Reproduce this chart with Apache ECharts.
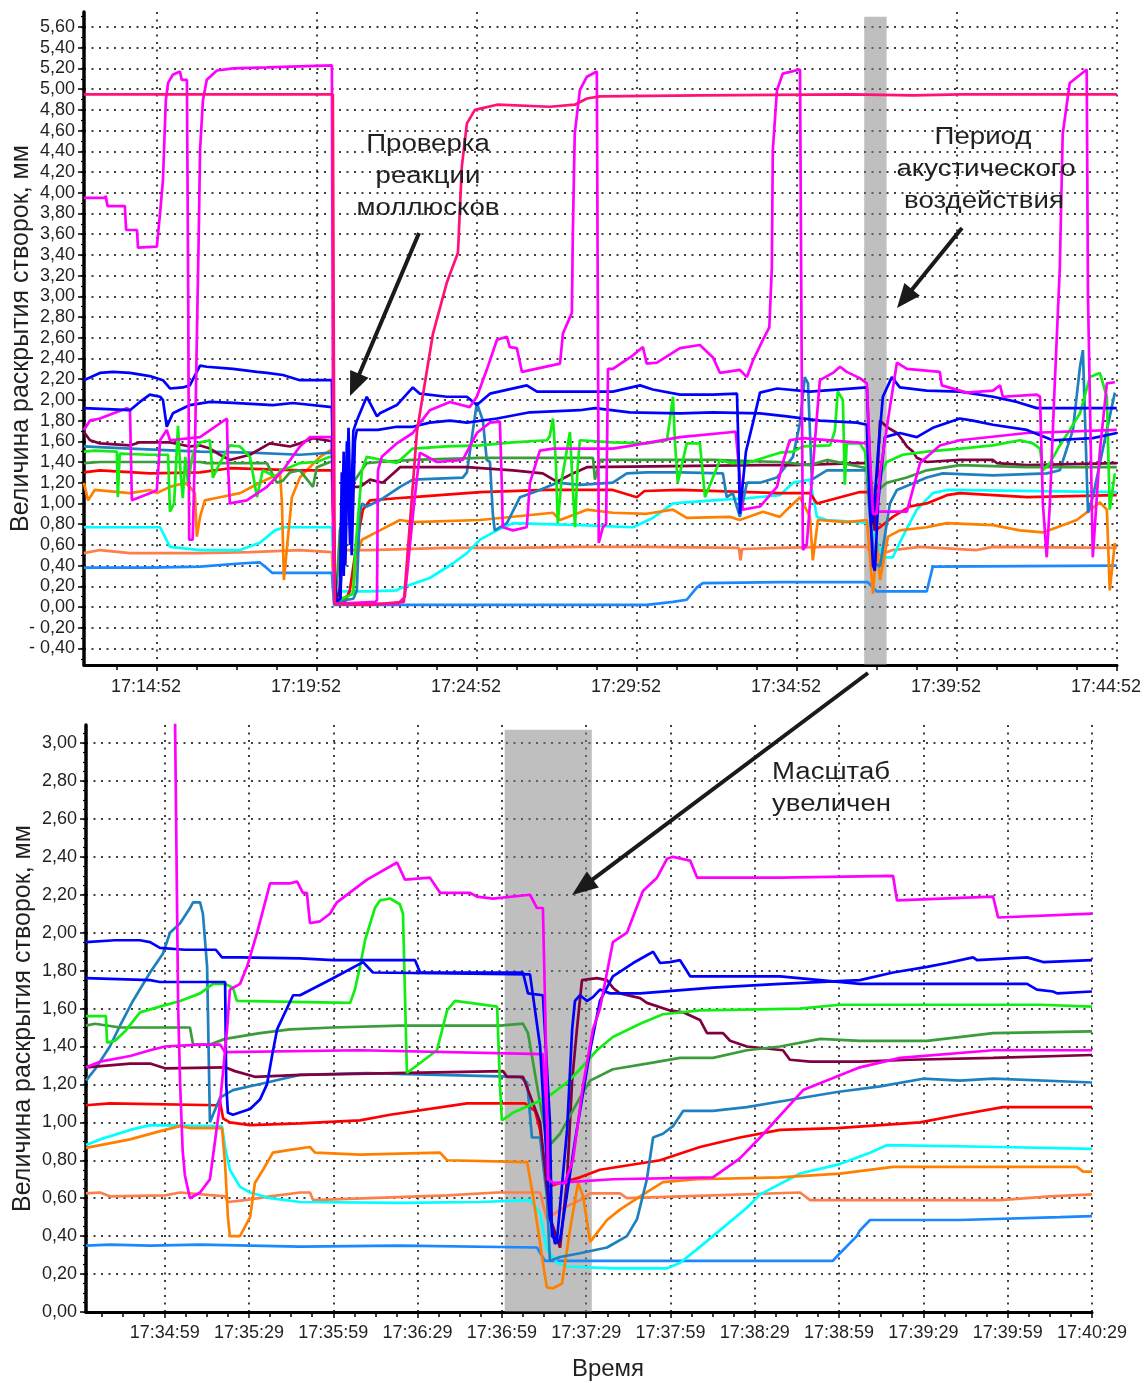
<!DOCTYPE html>
<html>
<head>
<meta charset="utf-8">
<script src="https://cdn.jsdelivr.net/npm/echarts@6.0.0/dist/echarts.min.js"></script>
<style>html,body{margin:0;padding:0;background:#fff}#c{width:1146px;height:1383px}</style>
</head>
<body>
<div id="c"></div>
<script>
// ---------- tick labels ----------
const topXLabels = ['17:14:52','17:19:52','17:24:52','17:29:52','17:34:52','17:39:52','17:44:52'];
const topXStart = '17:12:35';
const topYTicks = [-0.4,-0.2,0,0.2,0.4,0.6,0.8,1.0,1.2,1.4,1.6,1.8,2.0,2.2,2.4,2.6,2.8,3.0,3.2,3.4,3.6,3.8,4.0,4.2,4.4,4.6,4.8,5.0,5.2,5.4,5.6];
const botXLabels = ['17:34:59','17:35:29','17:35:59','17:36:29','17:36:59','17:37:29','17:37:59','17:38:29','17:38:59','17:39:29','17:39:59','17:40:29'];
const botXStart = '17:34:31';
const botYTicks = [0,0.2,0.4,0.6,0.8,1.0,1.2,1.4,1.6,1.8,2.0,2.2,2.4,2.6,2.8,3.0];
const topBand = ['17:36:58','17:37:40'];
const botBand = ['17:37:00','17:37:31'];

// ---------- top chart series: [minutes after 17:00, mm] ----------
const topCrimson = [[12.58,4.95],[20.36,4.95],[20.42,0.03],[21.5,0.02],[22.58,0.05],[22.99,1.7],[23.49,2.64],[23.92,3.13],[24.27,3.42],[24.39,4.25],[24.55,4.67],[24.8,4.8],[25.49,4.85],[27.14,4.83],[27.92,4.85],[28.3,4.91],[28.71,4.93],[31.83,4.94],[36.52,4.95],[38.5,4.94],[40,4.95],[44.86,4.95]];
const topMagentaA = [[12.58,3.95],[13.24,3.95],[13.26,3.97],[13.3,3.97],[13.32,3.87],[13.86,3.87],[13.9,3.64],[14.24,3.64],[14.27,3.47],[14.86,3.48],[14.96,3.8],[15.05,4.12],[15.14,4.89],[15.21,5.06],[15.36,5.14],[15.58,5.17],[15.64,5.09],[15.8,5.09],[15.84,3.0],[15.87,0.65],[15.98,0.65],[16.05,1.5],[16.11,2.6],[16.17,3.61],[16.21,4.41],[16.3,4.89],[16.42,5.09],[16.74,5.18],[17.24,5.2],[18.3,5.21],[20.33,5.23],[20.38,0.5],[20.42,0.03],[21.7,0.05],[21.74,0.07],[21.77,1.32],[21.89,1.45],[22.36,1.58],[22.86,1.68],[23.14,1.8],[23.39,1.9],[24.02,1.98],[24.64,1.93],[24.86,2.03],[25.17,2.29],[25.49,2.58],[25.8,2.61],[25.89,2.51],[26.11,2.5],[26.27,2.27],[27.46,2.35],[27.55,2.64],[27.83,2.84],[27.86,3.6],[27.92,4.57],[28.08,4.99],[28.3,5.12],[28.61,5.17],[28.64,3.0],[28.67,0.62],[28.8,0.77],[28.9,0.8],[28.96,2.3],[29.11,2.3],[29.74,2.43],[30.05,2.51],[30.17,2.35],[30.49,2.36],[31.21,2.5],[31.83,2.53],[32.24,2.41],[32.46,2.26],[33.08,2.29],[33.3,2.22],[33.49,2.38],[33.8,2.58],[34.0,2.7],[34.08,3.28],[34.11,4.41],[34.24,4.99],[34.42,5.15],[34.96,5.19],[35.0,3.0],[35.05,0.55],[35.17,0.6],[35.4,1.5],[35.58,2.19],[35.99,2.26],[36.21,2.32],[36.42,2.27],[36.83,2.21],[37.05,2.16],[37.14,1.5],[37.24,0.9],[37.36,0.9],[37.46,1.29],[37.77,1.93],[37.99,2.36],[38.3,2.3],[39.33,2.27],[39.39,2.14],[40.17,2.07],[40.99,2.09],[41.21,2.14],[41.3,2.03],[42.36,2.05],[42.46,2.03],[42.55,1.0],[42.67,0.48],[42.77,1.0],[42.9,2.0],[43.08,3.28],[43.17,4.57],[43.39,5.06],[43.92,5.19],[43.96,3.0],[44.11,0.48],[44.33,1.5],[44.55,2.16],[44.8,2.17]];
const topMagentaB = [[12.58,1.71],[12.77,1.8],[13.08,1.82],[13.92,1.92],[14.02,1.9],[14.08,1.03],[14.74,1.11],[14.86,1.13],[14.92,1.4],[14.96,1.61],[15.17,1.71],[15.27,1.61],[16.21,1.64],[17.05,1.82],[17.08,1.4],[17.14,1.0],[17.67,1.03],[18.3,1.16],[18.8,1.32],[19.33,1.55],[19.64,1.64],[20.33,1.64],[20.38,0.5],[20.42,0.03],[22.4,0.03],[22.61,0.1],[22.9,1.0],[23.08,1.49],[23.61,1.4],[24.42,1.42],[24.86,1.68],[25.27,1.78],[25.58,1.79],[25.64,1.2],[25.67,0.77],[25.99,0.74],[26.42,0.77],[26.52,1.2],[26.83,1.51],[27.24,1.53],[29.11,1.53],[29.74,1.56],[31.21,1.64],[32.86,1.69],[32.95,1.69],[33.17,0.94],[33.71,0.97],[34.24,1.16],[34.42,1.39],[34.64,1.61],[35.05,1.63],[37.05,1.58],[37.14,1.2],[37.21,0.92],[38.3,0.92],[38.71,1.39],[39.33,1.56],[39.96,1.61],[42.05,1.68],[44.86,1.71]];
const topBlue1 = [[12.58,2.19],[13.08,2.26],[13.49,2.27],[14.02,2.26],[14.64,2.23],[15.05,2.19],[15.27,2.11],[15.67,2.12],[15.89,2.14],[16.21,2.33],[16.42,2.32],[17.24,2.3],[17.99,2.27],[18.3,2.26],[18.8,2.24],[19.33,2.19],[20.33,2.19],[20.4,0.5],[20.45,0.05],[20.58,0.08],[20.64,1.3],[20.7,0.3],[20.8,1.6],[20.9,0.6],[21.0,1.7],[21.11,1.8],[21.42,2.03],[21.74,1.84],[21.83,1.87],[22.36,1.95],[22.86,2.12],[23.08,2.06],[23.92,2.03],[24.55,2.03],[24.86,1.95],[25.27,2.06],[26.42,2.14],[26.74,2.08],[28.08,2.08],[29.11,2.08],[29.96,2.14],[30.36,2.1],[31.21,2.05],[32.24,2.05],[32.99,2.06],[33.04,1.5],[33.08,0.9],[33.27,1.5],[33.49,1.78],[33.71,2.07],[34.24,2.11],[35.27,2.08],[37.05,2.12],[37.14,1.4],[37.24,0.81],[37.3,0.81],[37.4,1.5],[37.55,2.03],[37.83,2.22],[38.08,2.12],[38.92,2.09],[39.96,2.08],[40.99,2.03],[41.74,1.98],[42.36,1.92],[44.86,1.92]];
const topBlue2 = [[12.58,1.92],[14.02,1.9],[14.33,1.98],[14.64,2.05],[14.96,2.03],[15.05,2.0],[15.17,1.74],[15.36,1.87],[15.89,1.95],[16.52,1.98],[17.24,1.97],[18.49,1.95],[19.11,1.97],[20.33,1.93],[20.4,0.5],[20.45,0.05],[20.6,0.08],[20.7,1.5],[20.75,0.4],[20.85,1.73],[20.95,0.5],[21.05,1.6],[21.11,1.71],[21.77,1.71],[22.36,1.74],[22.86,1.74],[23.39,1.78],[24.02,1.8],[24.55,1.78],[25.49,1.82],[26.52,1.88],[28.08,1.9],[28.55,1.92],[29.64,1.88],[31.21,1.87],[32.24,1.88],[33.71,1.87],[34.55,1.84],[35.58,1.8],[36.74,1.78],[37.05,1.76],[37.14,1.0],[37.24,0.4],[37.3,0.35],[37.4,1.0],[37.61,1.64],[38.08,1.68],[38.61,1.64],[39.11,1.73],[39.96,1.82],[40.36,1.8],[40.99,1.76],[42.05,1.71],[42.86,1.61],[44.11,1.63],[44.86,1.68]];
const topGreen = [[12.58,1.5],[12.92,1.51],[13.61,1.5],[13.64,1.06],[13.7,1.48],[14.64,1.47],[15.21,1.47],[15.27,0.92],[15.4,1.0],[15.52,1.75],[15.6,1.3],[15.67,1.05],[15.75,1.45],[15.83,1.2],[16.0,1.5],[16.21,1.59],[16.52,1.61],[16.61,1.25],[16.83,1.39],[17.14,1.56],[17.46,1.55],[17.77,1.45],[17.99,1.06],[18.17,1.32],[18.61,1.25],[18.71,1.32],[19.02,1.35],[19.33,1.39],[19.86,1.4],[20.27,1.45],[20.36,1.45],[20.42,0.05],[20.8,0.1],[21.0,0.13],[21.05,0.5],[21.27,1.32],[21.42,1.45],[22.36,1.39],[22.86,1.53],[23.92,1.55],[24.96,1.56],[25.99,1.59],[27.05,1.61],[27.14,1.65],[27.24,1.82],[27.33,1.4],[27.39,0.81],[27.5,1.2],[27.77,1.69],[27.85,1.2],[27.93,0.77],[28.0,1.3],[28.08,1.61],[29.11,1.59],[30.17,1.58],[30.8,1.61],[30.89,1.8],[30.99,2.03],[31.05,1.6],[31.14,1.2],[31.42,1.58],[31.83,1.58],[31.92,1.3],[31.99,1.06],[32.24,1.25],[32.46,1.42],[32.77,1.39],[33.3,1.39],[34.33,1.49],[34.74,1.5],[35.05,1.55],[35.9,1.56],[36.05,1.7],[36.14,2.08],[36.3,2.0],[36.36,1.18],[36.42,1.58],[36.83,1.58],[36.99,1.5],[37.14,1.06],[37.3,1.16],[37.67,1.4],[38.17,1.47],[38.92,1.5],[39.96,1.53],[40.99,1.56],[41.83,1.61],[42.24,1.58],[42.46,1.53],[42.55,1.32],[42.77,1.39],[43.08,1.56],[43.39,1.71],[43.71,1.87],[44.02,2.22],[44.33,2.26],[44.55,2.03],[44.64,0.94],[44.8,1.29]];
const topDarkGreen = [[12.58,1.39],[13.08,1.4],[14.64,1.4],[16.21,1.4],[16.42,1.39],[18.3,1.39],[18.61,1.2],[18.8,1.22],[19.02,1.3],[19.33,1.32],[19.74,1.16],[19.86,1.35],[20.27,1.4],[20.36,1.4],[20.42,0.05],[20.5,0.3],[20.58,0.74],[20.99,1.2],[21.42,1.39],[21.83,1.4],[22.86,1.42],[24.96,1.44],[28.49,1.44],[28.55,1.23],[28.71,1.42],[32.24,1.42],[34.33,1.4],[35.27,1.37],[35.8,1.42],[37.05,1.34],[37.14,1.1],[37.21,0.94],[37.3,1.1],[37.67,1.2],[38.3,1.25],[38.92,1.32],[39.96,1.37],[42.05,1.35],[44.86,1.35]];
const topMaroon = [[12.58,1.69],[12.77,1.61],[13.08,1.58],[14.02,1.56],[14.33,1.59],[15.27,1.59],[15.89,1.55],[16.21,1.56],[16.52,1.53],[16.83,1.47],[17.14,1.42],[17.77,1.47],[18.39,1.58],[19.02,1.55],[19.33,1.58],[19.74,1.63],[20.33,1.6],[20.4,0.5],[20.45,0.05],[20.6,0.2],[20.8,1.16],[21.21,1.16],[21.52,1.23],[21.92,1.2],[22.36,1.32],[22.46,1.35],[24.55,1.35],[25.99,1.32],[26.92,1.29],[27.36,1.21],[27.86,1.29],[28.3,1.35],[33.71,1.37],[34.74,1.37],[36.83,1.39],[37.05,1.39],[37.14,1.0],[37.3,0.74],[37.46,1.8],[37.67,1.74],[37.99,1.68],[38.17,1.61],[38.3,1.55],[38.49,1.5],[38.61,1.44],[38.92,1.4],[39.96,1.42],[40.99,1.42],[41.11,1.39],[42.05,1.37],[44.86,1.39]];
const topSteel = [[12.58,1.55],[14.02,1.53],[16.21,1.5],[17.77,1.49],[19.33,1.47],[20.36,1.49],[20.42,0.05],[21.0,0.08],[21.11,0.16],[21.2,0.9],[21.27,1.0],[21.42,0.97],[21.83,1.03],[22.46,1.16],[22.86,1.23],[24.42,1.25],[24.55,1.3],[24.86,1.97],[25.05,1.8],[25.17,1.42],[25.27,1.4],[25.36,0.9],[25.42,0.74],[25.8,0.81],[26.21,1.06],[26.83,1.13],[27.36,1.2],[28.08,1.18],[29.11,1.2],[29.55,1.29],[30.17,1.3],[31.21,1.3],[32.55,1.29],[32.67,1.06],[32.86,1.1],[33.08,0.87],[33.3,1.2],[33.71,1.2],[34.24,1.25],[34.74,1.45],[34.96,1.78],[35.11,2.22],[35.21,2.16],[35.33,1.23],[35.8,1.32],[37.05,1.32],[37.14,0.9],[37.3,0.42],[37.46,0.39],[37.77,1.0],[37.99,1.13],[38.39,1.18],[38.92,1.25],[39.42,1.29],[40.99,1.27],[42.67,1.29],[43.08,1.32],[43.49,1.71],[43.71,2.32],[43.8,2.48],[43.96,0.91],[44.11,1.06],[44.55,1.71],[44.8,2.07]];
const topRed = [[12.58,1.3],[13.08,1.32],[14.64,1.29],[16.21,1.3],[17.14,1.34],[19.33,1.32],[20.33,1.32],[20.4,0.5],[20.45,0.05],[20.74,0.05],[20.89,0.16],[21.11,0.62],[21.3,0.94],[21.52,1.03],[22.36,1.05],[22.86,1.06],[24.96,1.11],[27.05,1.13],[29.11,1.13],[29.86,1.06],[30.1,1.12],[31.21,1.13],[34.33,1.1],[35.27,1.1],[35.49,1.0],[36.83,1.11],[37.14,1.11],[37.3,0.74],[37.46,0.77],[37.86,0.87],[38.39,0.97],[38.92,1.0],[39.55,1.08],[39.96,1.1],[42.05,1.06],[44.86,1.08]];
const topCyan = [[12.58,0.77],[14.96,0.77],[15.11,0.68],[15.27,0.58],[16.21,0.55],[17.46,0.55],[18.08,0.62],[18.55,0.74],[18.86,0.77],[20.33,0.77],[20.42,0.15],[21.5,0.15],[22.36,0.16],[22.46,0.18],[23.39,0.28],[24.11,0.42],[24.55,0.52],[24.96,0.65],[25.49,0.74],[25.99,0.81],[28.08,0.79],[29.74,0.77],[30.36,0.86],[30.99,1.0],[32.24,1.03],[33.3,1.05],[34.33,1.08],[34.74,1.2],[35.27,1.23],[35.49,0.87],[35.8,0.84],[36.83,0.82],[37.14,0.81],[37.55,0.48],[37.86,0.48],[38.17,0.68],[38.61,0.94],[39.11,1.1],[39.55,1.13],[44.86,1.11]];
const topOrange = [[12.58,1.2],[12.71,1.03],[12.92,1.13],[14.02,1.1],[14.64,1.13],[14.86,1.1],[15.27,1.16],[15.74,1.2],[15.89,1.16],[16.05,1.1],[16.11,0.68],[16.21,0.87],[16.36,1.03],[16.83,1.06],[17.46,1.1],[18.08,1.2],[18.71,1.29],[18.77,1.0],[18.83,0.26],[18.96,0.68],[19.08,1.06],[19.33,1.25],[19.64,1.35],[19.96,1.45],[20.36,1.53],[20.42,0.05],[20.99,0.13],[21.1,0.5],[21.27,0.65],[21.83,0.74],[22.46,0.84],[22.86,0.82],[24.96,0.84],[27.24,0.91],[27.46,0.84],[28.3,0.94],[29.11,0.91],[30.17,0.9],[30.99,0.94],[31.42,0.86],[32.77,0.87],[33.08,0.84],[33.8,0.92],[34.33,0.87],[34.55,0.94],[34.96,1.06],[35.27,0.87],[35.36,0.45],[35.52,0.84],[36.42,0.82],[37.05,0.84],[37.24,0.13],[37.36,0.62],[37.46,0.26],[37.71,0.68],[38.08,0.74],[38.92,0.77],[39.55,0.81],[40.99,0.79],[41.83,0.74],[42.55,0.72],[43.61,0.84],[44.33,1.01],[44.55,0.94],[44.64,0.16],[44.8,0.62]];
const topCoral = [[12.58,0.52],[13.08,0.55],[14.02,0.52],[16.21,0.52],[17.77,0.53],[19.33,0.55],[20.33,0.53],[20.4,0.05],[20.5,0.1],[20.74,0.55],[21.5,0.55],[23.92,0.57],[25.99,0.57],[28.08,0.58],[30.17,0.58],[33.05,0.57],[33.1,0.45],[33.15,0.56],[34.33,0.57],[35.8,0.58],[37.05,0.58],[37.24,0.48],[37.86,0.55],[38.71,0.58],[40.49,0.55],[40.99,0.58],[44.86,0.57]];
const topAzure = [[12.58,0.38],[14.64,0.38],[16.21,0.39],[17.46,0.42],[18.08,0.43],[18.24,0.39],[18.46,0.33],[20.33,0.33],[20.4,0.02],[22.46,0.02],[27.05,0.02],[30.17,0.02],[30.99,0.05],[31.42,0.07],[31.74,0.19],[31.92,0.23],[34.33,0.24],[37.08,0.24],[37.36,0.15],[38.92,0.15],[39.11,0.39],[44.86,0.40]];

// ---------- bottom chart series: [seconds after 17:34:00, mm] ----------
const botMagentaA = [[31,5.19],[61.5,5.15],[62.7,3.1],[63.8,1.6],[64.5,1.2],[65.4,0.85],[66.2,0.72],[68,0.6],[71.6,0.63],[75.1,0.7],[78.7,1.1],[81.2,1.49],[82.2,1.70],[85.8,1.73],[88.3,1.82],[91.9,2.0],[96.5,2.26],[103.6,2.26],[106.1,2.27],[108.2,2.21],[109.6,2.21],[110.7,2.05],[114.3,2.06],[117.8,2.1],[120.3,2.16],[131,2.28],[141.7,2.37],[144.5,2.28],[153.4,2.29],[157,2.21],[167.7,2.21],[170.1,2.19],[175.8,2.18],[189,2.2],[191.5,2.13],[193.6,2.13],[194.7,1.4],[195.4,0.7],[197.2,0.68],[201.4,0.68],[204.3,0.8],[207.9,1.2],[211.4,1.49],[213.9,1.6],[218.5,1.95],[223.5,2.0],[229.2,2.22],[234.2,2.29],[237.8,2.39],[239.9,2.4],[246,2.38],[248.5,2.29],[278,2.29],[318.2,2.3],[319.6,2.17],[353.8,2.19],[355.6,2.08],[389,2.1]];
const botMagentaB = [[31,1.29],[36,1.32],[46.7,1.35],[53.8,1.38],[59.1,1.40],[71.6,1.41],[78.7,1.41],[80.5,1.37],[128.5,1.38],[193.6,1.36],[196.1,0.7],[197.2,0.68],[218.5,0.70],[254.1,0.71],[263.7,0.81],[270.9,0.92],[286.2,1.17],[306.4,1.29],[320.7,1.34],[353.8,1.38],[389,1.38]];
const botBlue1 = [[31,1.95],[41.3,1.96],[50.2,1.96],[53.8,1.95],[57.3,1.92],[66.2,1.91],[77.2,1.91],[79.4,1.87],[85.8,1.87],[107.2,1.865],[118.9,1.855],[148.1,1.855],[149.9,1.79],[186.5,1.79],[188.3,1.68],[193.6,1.67],[196.1,1.0],[196.8,0.4],[198.6,0.38],[202.2,0.96],[204,1.49],[205,1.64],[206.8,1.67],[209.3,1.64],[211.4,1.66],[213.9,1.70],[217.5,1.68],[228.2,1.68],[254.1,1.71],[278,1.73],[306.4,1.75],[318.2,1.79],[330.3,1.82],[337.4,1.84],[346.7,1.87],[348.1,1.855],[365.9,1.87],[371.6,1.845],[389,1.855]];
const botBlue2 = [[31,1.76],[53.8,1.75],[57.3,1.74],[80.5,1.74],[80.9,1.2],[81.5,1.05],[83.3,1.04],[89.4,1.07],[92.9,1.12],[95.4,1.2],[97.2,1.35],[99,1.49],[104.7,1.67],[107.2,1.67],[118.9,1.76],[129.6,1.845],[133.1,1.79],[189,1.78],[192.6,1.4],[196.1,0.5],[197.9,0.36],[199.7,0.38],[205,0.9],[210.4,1.38],[213.9,1.64],[218.5,1.77],[225.7,1.84],[231.7,1.89],[232.8,1.90],[235.3,1.84],[238.8,1.845],[242.4,1.855],[246,1.77],[278,1.77],[306.4,1.73],[365.9,1.73],[369.4,1.70],[375.1,1.69],[376.6,1.68],[389,1.69]];
const botGreen = [[31,1.56],[38.1,1.56],[38.5,1.42],[41.3,1.43],[44.9,1.48],[50.2,1.58],[57.3,1.61],[64.5,1.64],[71.6,1.68],[76.2,1.73],[80.5,1.73],[83.3,1.71],[84.7,1.64],[125,1.63],[126.7,1.70],[128.5,1.82],[130.3,1.96],[133.8,2.13],[135.6,2.17],[139.2,2.18],[142.7,2.15],[143.8,2.1],[145.2,1.26],[155.9,1.38],[159.5,1.59],[162.3,1.64],[167.7,1.63],[177.3,1.61],[178.3,1.2],[179,1.01],[182.9,1.05],[189,1.09],[195,1.13],[202.2,1.21],[206.8,1.28],[212.8,1.38],[218.5,1.45],[228.2,1.52],[236.3,1.57],[249.5,1.59],[285.1,1.60],[299.3,1.62],[370.5,1.62],[389,1.61]];
const botDarkGreen = [[31,1.51],[34.2,1.52],[43.1,1.50],[68,1.50],[69.1,1.41],[75.1,1.41],[80.5,1.44],[92.9,1.47],[103.6,1.49],[118.9,1.50],[142.7,1.51],[178.3,1.51],[186.5,1.52],[188.3,1.47],[192.6,1.1],[195.4,0.87],[199.7,0.94],[206.8,1.13],[210.4,1.22],[218.5,1.28],[230.6,1.31],[242.4,1.34],[254.1,1.34],[266.2,1.38],[278,1.40],[292.3,1.44],[306.4,1.43],[330.3,1.43],[353.8,1.47],[389,1.48]];
const botMaroon = [[31,1.29],[46.7,1.31],[53.8,1.31],[59.1,1.285],[80.5,1.29],[84,1.27],[91.1,1.24],[107.2,1.25],[179.4,1.27],[180.8,1.24],[186.5,1.24],[192.6,1.0],[196.1,0.5],[199.7,0.34],[202.2,0.7],[204,1.22],[205.7,1.49],[207.5,1.75],[212.8,1.76],[216.4,1.75],[218.5,1.71],[221,1.68],[228.2,1.655],[230.6,1.63],[238.8,1.59],[243.5,1.58],[249.5,1.54],[252,1.47],[257.7,1.47],[260.2,1.43],[266.2,1.40],[279,1.38],[281.5,1.33],[288.7,1.32],[306.4,1.32],[324.2,1.33],[353.8,1.34],[389,1.355]];
const botSteel = [[31,1.22],[34.2,1.28],[39.5,1.40],[43.1,1.51],[47.7,1.64],[53.8,1.79],[58.4,1.89],[60.9,2.0],[64.5,2.05],[68,2.13],[69.1,2.16],[71.6,2.16],[72.6,2.1],[74.1,1.82],[75.1,1.0],[78.7,1.13],[83.3,1.17],[89.4,1.19],[95.4,1.21],[101.1,1.23],[107.2,1.25],[131,1.26],[185.4,1.24],[188,1.21],[189.7,0.92],[192.6,0.92],[195,0.61],[196.1,0.27],[199.7,0.29],[206.8,0.31],[216.4,0.34],[223.5,0.40],[227.1,0.49],[230.6,0.70],[232.8,0.92],[236.3,0.94],[239.9,0.98],[243.5,1.06],[254.1,1.06],[266.2,1.08],[278,1.11],[298.3,1.16],[313.6,1.19],[328.9,1.23],[342,1.22],[353.8,1.23],[389,1.21]];
const botRed = [[31,1.09],[39.5,1.10],[78,1.09],[78.7,1.11],[79.8,1.02],[82.2,1.0],[89.4,0.985],[107.2,0.995],[128.5,1.01],[139.2,1.04],[166.6,1.10],[187.2,1.10],[190.8,1.06],[192.6,0.96],[194.3,0.75],[195.4,0.66],[199.7,0.68],[206.8,0.71],[213.9,0.75],[224.6,0.775],[235.3,0.80],[249.5,0.87],[263.7,0.92],[278,0.96],[298.3,0.97],[327.8,1.0],[342,1.04],[357.3,1.08],[389,1.08]];
const botCyan = [[31,0.88],[36,0.91],[46.7,0.96],[53.8,0.985],[79.4,0.98],[80.5,0.87],[82.2,0.75],[85.8,0.66],[89.4,0.63],[96.5,0.60],[107.2,0.58],[142.7,0.575],[171.2,0.58],[189,0.59],[192.6,0.52],[195,0.33],[198.6,0.26],[202.2,0.24],[218.5,0.23],[237.8,0.23],[242.4,0.26],[248.4,0.33],[254.1,0.40],[266.2,0.55],[270.9,0.62],[285.1,0.73],[299.3,0.78],[310,0.84],[316.1,0.88],[356.3,0.87],[389,0.86]];
const botOrange = [[31,0.865],[46.7,0.91],[59.1,0.96],[64.5,0.98],[68,0.97],[79.4,0.97],[80.5,0.78],[81.5,0.5],[82.2,0.40],[85.8,0.40],[89.4,0.50],[91.1,0.68],[94,0.75],[97.5,0.84],[103.6,0.855],[110.7,0.87],[112.5,0.84],[128.5,0.83],[157,0.84],[159.5,0.80],[188,0.79],[190.1,0.61],[193.6,0.26],[195,0.13],[197.2,0.125],[200.4,0.15],[203.2,0.43],[206.1,0.68],[207.9,0.61],[210.4,0.37],[216.4,0.485],[221,0.54],[228.2,0.61],[236.3,0.685],[248.4,0.70],[278,0.71],[299.3,0.73],[318.2,0.765],[383.7,0.765],[385.8,0.74],[389,0.74]];
const botCoral = [[31,0.625],[36,0.63],[39.5,0.61],[59.1,0.615],[64.5,0.63],[80.5,0.61],[81.5,0.58],[87.6,0.59],[96.5,0.61],[107.2,0.63],[110.7,0.63],[111.8,0.59],[159.5,0.615],[177.3,0.63],[192.6,0.63],[195,0.49],[199.7,0.54],[206.8,0.59],[210.4,0.625],[221,0.625],[223.5,0.60],[254.1,0.615],[285.1,0.63],[288.7,0.59],[356.3,0.59],[374.1,0.61],[389,0.62]];
const botAzure = [[31,0.35],[39.5,0.355],[53.8,0.35],[71.6,0.355],[107.2,0.345],[142.7,0.35],[191.5,0.34],[194.3,0.27],[199.7,0.27],[296.8,0.27],[299.3,0.31],[305.3,0.40],[306.4,0.43],[310,0.485],[342,0.485],[377.6,0.50],[389,0.505]];

// ---------- helpers ----------
const FONT = '"Liberation Sans", Arial, sans-serif';
const TXT = '#231f20';
const pad = n => String(n).padStart(2, '0');
function tMin(s){ const p = s.split(':').map(Number); return (p[0]-17)*60 + p[1] + p[2]/60; }
function tSec(s){ const p = s.split(':').map(Number); return (p[0]-17)*3600 + (p[1]-34)*60 + p[2]; }
function fmtTop(v){ const t = Math.round(v*60); return '17:' + pad(Math.floor(t/60)) + ':' + pad(t%60); }
function fmtBot(v){ const t = Math.round(v) + 34*60; return '17:' + pad(Math.floor(t/60)) + ':' + pad(t%60); }
function fmtY(v){ const s = Math.abs(v).toFixed(2).replace('.', ','); return v < -1e-9 ? '- ' + s : s; }

const topXMin = tMin(topXStart), topXMax = tMin(topXLabels[topXLabels.length-1]);
const botXMin = tSec(botXStart), botXMax = tSec(botXLabels[botXLabels.length-1]);
const topYMin = -0.56, topYMax = 5.745;
const botYMin = 0, botYMax = 3.095;

const topMajor = topXLabels.map(tMin);
const botMajor = botXLabels.map(tSec);
function minors(first, step, lo, hi){ let s = first; while (s - step >= lo - 1e-6) s -= step; const out = []; for (let v = s; v <= hi + 1e-6; v += step) out.push(+v.toFixed(5)); return out; }
const topMinor = minors(topMajor[0], 1.25, topXMin, topXMax);
const botMinor = minors(botMajor[0], 7.5, botXMin, botXMax);
const topYMinor = minors(0, 0.1, -0.5, 5.7);
const botYMinor = minors(0, 0.05, 0, 3.05);

const dotted = { color: '#000', type: [2, 5.5], width: 1.5 };

function mainX(gi, min, max, major, fmt, labelPad, margin){
  return { gridIndex: gi, type: 'value', min, max, position: 'bottom',
    axisLine: { show: true, onZero: false, lineStyle: { color: '#000', width: 3 } },
    axisTick: { show: true, customValues: major, length: 6, lineStyle: { color: '#000', width: 1.5 } },
    axisLabel: { show: true, customValues: major, formatter: fmt, color: TXT, fontSize: 18, fontFamily: FONT, margin, padding: labelPad },
    splitLine: { show: true, lineStyle: dotted } };
}
function minorX(gi, min, max, ticks){
  return { gridIndex: gi, type: 'value', min, max, position: 'bottom',
    axisLine: { show: false, onZero: false }, axisLabel: { show: false },
    axisTick: { show: true, customValues: ticks, length: 5, lineStyle: { color: '#000', width: 1.5 } },
    splitLine: { show: false } };
}
function mainY(gi, min, max, ticks){
  return { gridIndex: gi, type: 'value', min, max, position: 'left',
    name: 'Величина раскрытия створок, мм', nameLocation: 'middle', nameGap: 50, nameMoveOverlap: false,
    nameTextStyle: { color: TXT, fontSize: 25, fontFamily: FONT },
    axisLine: { show: true, onZero: false, lineStyle: { color: '#000', width: 3.5 } },
    axisTick: { show: true, customValues: ticks, length: 6, lineStyle: { color: '#000', width: 1.5 } },
    axisLabel: { show: true, customValues: ticks, formatter: fmtY, color: TXT, fontSize: 18, fontFamily: FONT, margin: 9 },
    splitLine: { show: true, lineStyle: dotted } };
}
function minorY(gi, min, max, ticks){
  return { gridIndex: gi, type: 'value', min, max, position: 'left',
    axisLine: { show: false, onZero: false }, axisLabel: { show: false },
    axisTick: { show: true, customValues: ticks, length: 3, lineStyle: { color: '#000', width: 1.2 } },
    splitLine: { show: false } };
}

function line(data, color, xi, yi){
  return { type: 'line', data, xAxisIndex: xi, yAxisIndex: yi, showSymbol: false, symbol: 'none',
    lineStyle: { color, width: 2.7 }, itemStyle: { color }, animation: false, z: 3, clip: true, silent: true };
}

const C = { crimson: '#ff1177', magenta: '#ff00ff', blue: '#0000ff', green: '#11ee11', dgreen: '#3a9c3a',
  maroon: '#800040', steel: '#1f80c0', red: '#ff0000', cyan: '#00ffff', orange: '#ff8000', coral: '#ff7f4a', azure: '#1a88ff' };

function band(xi, yi, x0, x1, y0, y1){
  return { type: 'line', data: [[x0, y0]], xAxisIndex: xi, yAxisIndex: yi, symbol: 'none', showSymbol: false,
    lineStyle: { width: 0, opacity: 0 }, z: 1, silent: true, animation: false,
    markArea: { silent: true, itemStyle: { color: 'rgba(128,128,128,0.5)' },
      data: [[{ xAxis: x0, yAxis: y0 }, { xAxis: x1, yAxis: y1 }]] } };
}

function arrow(x1, y1, x2, y2, hl, hw){
  const dx = x2 - x1, dy = y2 - y1, L = Math.hypot(dx, dy), ux = dx / L, uy = dy / L;
  const bx = x2 - ux * hl, by = y2 - uy * hl, px = -uy, py = ux;
  return [
    { type: 'line', shape: { x1, y1, x2: bx + ux * 3, y2: by + uy * 3 }, style: { stroke: '#1a1a1a', lineWidth: 4 }, z: 100 },
    { type: 'polygon', shape: { points: [[x2, y2], [bx + px * hw, by + py * hw], [bx - px * hw, by - py * hw]] }, style: { fill: '#1a1a1a' }, z: 100 }
  ];
}
function note(text, x, y, align){
  return { type: 'text', x, y, scaleX: 1.2, z: 100,
    style: { text, font: '23px ' + FONT, fill: TXT, align: align || 'center', verticalAlign: 'middle' } };
}

const series = [
  band(0, 0, tMin(topBand[0]), tMin(topBand[1]), topYMin, 5.70),
  band(2, 2, tSec(botBand[0]), tSec(botBand[1]), 0, 3.07),
  line(topCoral, C.coral, 0, 0), line(topAzure, C.azure, 0, 0), line(topCyan, C.cyan, 0, 0),
  line(topOrange, C.orange, 0, 0), line(topRed, C.red, 0, 0), line(topSteel, C.steel, 0, 0),
  line(topMaroon, C.maroon, 0, 0), line(topDarkGreen, C.dgreen, 0, 0), line(topGreen, C.green, 0, 0),
  line(topMagentaB, C.magenta, 0, 0), line(topBlue2, C.blue, 0, 0), line(topBlue1, C.blue, 0, 0),
  line(topMagentaA, C.magenta, 0, 0), line(topCrimson, C.crimson, 0, 0),
  line(botCoral, C.coral, 2, 2), line(botAzure, C.azure, 2, 2), line(botCyan, C.cyan, 2, 2),
  line(botOrange, C.orange, 2, 2), line(botRed, C.red, 2, 2), line(botSteel, C.steel, 2, 2),
  line(botMaroon, C.maroon, 2, 2), line(botDarkGreen, C.dgreen, 2, 2), line(botGreen, C.green, 2, 2),
  line(botMagentaB, C.magenta, 2, 2), line(botBlue2, C.blue, 2, 2), line(botBlue1, C.blue, 2, 2),
  line(botMagentaA, C.magenta, 2, 2)
];

const chart = echarts.init(document.getElementById('c'), null, { renderer: 'canvas' });
chart.setOption({
  animation: false,
  backgroundColor: '#ffffff',
  grid: [
    { left: 84, right: 29, top: 12, bottom: 1383 - 665, containLabel: false, outerBoundsMode: 'none' },
    { left: 86, right: 54, top: 725, bottom: 1383 - 1312, containLabel: false, outerBoundsMode: 'none' }
  ],
  xAxis: [
    mainX(0, topXMin, topXMax, topMajor, fmtTop, [0, 22, 0, 0], 13),
    minorX(0, topXMin, topXMax, topMinor),
    mainX(1, botXMin, botXMax, botMajor, fmtBot, 0, 12),
    minorX(1, botXMin, botXMax, botMinor)
  ],
  yAxis: [
    mainY(0, topYMin, topYMax, topYTicks),
    minorY(0, topYMin, topYMax, topYMinor),
    mainY(1, botYMin, botYMax, botYTicks),
    minorY(1, botYMin, botYMax, botYMinor)
  ],
  series,
  graphic: [
    note('Проверка', 428, 145), note('реакции', 428, 177), note('моллюсков', 428, 209),
    ...arrow(419, 233, 350, 396, 24, 10),
    note('Период', 983, 138), note('акустического', 986, 170), note('воздействия', 984, 202),
    ...arrow(962, 228, 897, 308, 24, 10),
    note('Масштаб', 772, 773, 'left'), note('увеличен', 772, 805, 'left'),
    ...arrow(868, 673, 572, 895, 26, 10),
    { type: 'text', x: 608, y: 1369, z: 100, style: { text: 'Время', font: '24px ' + FONT, fill: TXT, align: 'center', verticalAlign: 'middle' } }
  ]
});
</script>
</body>
</html>
